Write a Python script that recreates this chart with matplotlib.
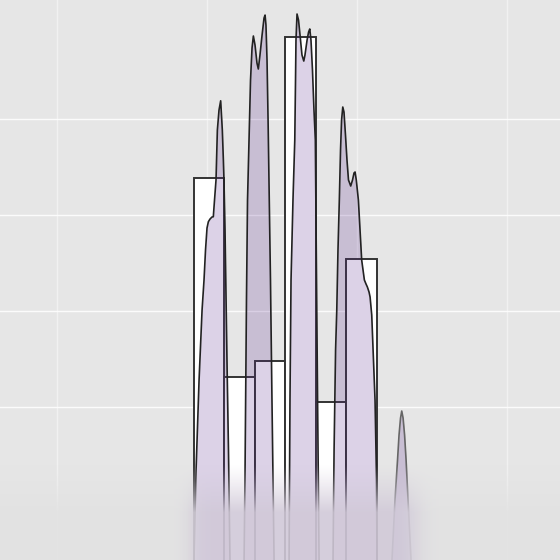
import numpy as np
import matplotlib.pyplot as plt

# histogram bins (white bars)
bin_edges = [9.1, 11.13, 13.17, 15.22, 17.25, 19.29, 21.32]
bin_heights = [33.82, 13.16, 14.82, 48.54, 10.49, 25.45]

# density spikes, one per group: x positions and curve heights
a_x = [9.13, 9.27, 9.47, 9.67, 9.80, 9.90, 10.0, 10.09, 10.2, 10.33, 10.42, 10.5, 10.6,
       10.69, 10.8, 10.91, 11.02, 11.09, 11.13, 11.2, 11.25, 11.33, 11.43, 11.53]
a_y = [-5.94, 3.44, 12.81, 20.1, 23.23, 26.35, 28.65, 29.3, 29.58, 29.79, 29.82, 31.56, 33.65,
       38.85, 40.94, 41.9, 38.85, 35.73, 33.65, 28.44, 23.23, 14.9, 5.52, -5.94]

b_x = [12.47, 12.53, 12.63, 12.7, 12.8, 12.9, 13.0, 13.09, 13.2, 13.33, 13.42, 13.53, 13.67,
       13.8, 13.87, 13.93, 14.0, 14.07, 14.13, 14.23, 14.33, 14.47]
b_y = [-5.94, 2.4, 21.15, 31.56, 37.81, 44.06, 47.4, 48.65, 47.71, 45.83, 45.21, 46.67, 48.75,
       50.52, 50.83, 49.79, 46.15, 39.9, 33.65, 23.23, 10.73, -5.94]

c_x = [15.47, 15.53, 15.6, 15.73, 15.85, 15.9, 15.93, 16.0, 16.1, 16.2, 16.33, 16.45, 16.53,
       16.67, 16.77, 16.85, 16.93, 17.03, 17.13, 17.22, 17.3, 17.37, 17.47]
c_y = [-5.94, 10.73, 23.23, 31.56, 37.81, 44.06, 48.23, 50.94, 50.31, 48.75, 46.67, 46.04, 46.67,
       48.23, 49.06, 49.38, 48.23, 45.1, 40.94, 37.81, 23.23, 10.73, -5.94]

d_x = [18.4, 18.47, 18.57, 18.65, 18.73, 18.82, 18.9, 18.97, 19.05, 19.13, 19.23, 19.33, 19.43,
       19.58, 19.7, 19.8, 19.87, 19.95, 20.09, 20.2, 20.31, 20.49, 20.6, 20.69, 20.8, 20.87,
       20.98, 21.07, 21.2, 21.3, 21.33]
d_y = [-5.94, 5.52, 15.94, 20.1, 26.35, 31.56, 36.77, 39.9, 41.25, 40.73, 38.33, 35.73, 33.65,
       33.02, 33.65, 34.38, 34.48, 33.65, 31.56, 28.44, 25.31, 23.23, 22.81, 22.5, 21.98, 21.46,
       19.58, 15.94, 10.73, 2.4, -5.94]

e_x = [22.33, 22.53, 22.7, 22.8, 22.9, 22.98, 23.07, 23.17, 23.27, 23.4, 23.6]
e_y = [-5.94, 0.31, 4.48, 7.08, 8.85, 9.58, 8.85, 7.08, 4.48, 0.31, -5.94]

base = -8
x_lim = (-3.8, 33.53)
y_lim = (-5.94, 52.4)

fig = plt.figure(figsize=(5.6, 5.6), dpi=100)
ax = fig.add_axes([0, 0, 1, 1])
ax.set_facecolor('#e6e6e6')
fig.patch.set_facecolor('#e6e6e6')

edges = np.array(bin_edges)
h = np.array(bin_heights)
ax.bar(edges[:-1], h - base, width=np.diff(edges), bottom=base, align='edge',
       color='white', edgecolor='#333333', linewidth=1.4, zorder=2)

spikes = [(a_x, a_y), (b_x, b_y), (c_x, c_y), (d_x, d_y), (e_x, e_y)]
for i, (xs, ys) in enumerate(spikes):
    ax.fill_between(xs, ys, base, color='#5b2c8f', alpha=0.21, linewidth=0, zorder=3)
    ax.plot(xs, ys, color='#222222' if i < 4 else '#666666', linewidth=1.2, zorder=4)

# soft haze over the bottom of the plot
fade_top = 4.0
nx_, ny_ = 400, 120
gx = np.linspace(x_lim[0], x_lim[1], nx_)
gy = np.linspace(y_lim[0], fade_top, ny_)
inside = 1 / (1 + np.exp(-(gx - 8.9) / 0.35)) * (1 / (1 + np.exp((gx - 24.0) / 0.45)))
lav = np.array([0.82, 0.79, 0.85])
gray = np.array([0.89, 0.89, 0.89])
col = gray[None, :] * (1 - inside[:, None]) + lav[None, :] * inside[:, None]
ramp = np.clip((fade_top - gy) / (fade_top - (-1.0)), 0, 1) ** 1.2 * 0.9
rgba = np.zeros((ny_, nx_, 4))
rgba[..., :3] = col[None, :, :]
rgba[..., 3] = ramp[:, None]
ax.imshow(rgba, extent=(x_lim[0], x_lim[1], y_lim[0], fade_top), origin='lower',
          aspect='auto', interpolation='bilinear', zorder=5)

ax.set_xlim(*x_lim)
ax.set_ylim(*y_lim)
ax.set_xticks([0, 10, 20, 30])
ax.set_yticks([10, 20, 30, 40])
ax.yaxis.grid(True, color='white', linewidth=1.0, alpha=0.85, zorder=0)
ax.xaxis.grid(True, color='white', linewidth=1.0, alpha=0.45, zorder=0)
ax.set_axisbelow(True)
ax.tick_params(length=0, labelbottom=False, labelleft=False)
for s in ax.spines.values():
    s.set_visible(False)

fig.savefig('out.png', dpi=100, facecolor=fig.get_facecolor())
